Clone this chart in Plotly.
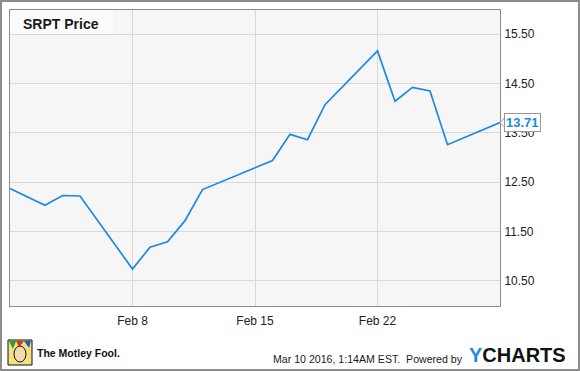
import plotly.graph_objects as go

# ---- data ----
dates = ["2016-02-01", "2016-02-03", "2016-02-04", "2016-02-05", "2016-02-08",
         "2016-02-09", "2016-02-10", "2016-02-11", "2016-02-12", "2016-02-16",
         "2016-02-17", "2016-02-18", "2016-02-19", "2016-02-22", "2016-02-23",
         "2016-02-24", "2016-02-25", "2016-02-26", "2016-02-29"]
prices = [12.37, 12.03, 12.23, 12.22, 10.74,
          11.18, 11.29, 11.72, 12.35, 12.94,
          13.47, 13.36, 14.07, 15.16, 14.14,
          14.42, 14.35, 13.26, 13.71]
y_ticks = [10.5, 11.5, 12.5, 13.5, 14.5, 15.5]
x_ticks = ["2016-02-08", "2016-02-15", "2016-02-22"]
x_tick_text = ["Feb 8", "Feb 15", "Feb 22"]
title_text = "SRPT Price"
last_label = "13.71"
timestamp_text = "Mar 10 2016, 1:14AM EST.  Powered by"

# ---- layout geometry ----
W, H = 580, 371
L, R, T, B = 10, 80, 10, 65
PW, PH = W - L - R, H - T - B


def px(x):
    return (x - L) / PW


def py(y):
    return 1 - (y - T) / PH


BLUE = "#1b8ae4"
FONT = "Liberation Sans, Arial, sans-serif"

fig = go.Figure()
fig.add_trace(go.Scatter(x=dates, y=prices, mode="lines",
                         line=dict(color=BLUE, width=1.7), hoverinfo="skip"))

shapes = [
    # title box
    dict(type="rect", xref="paper", yref="paper", x0=px(10), x1=px(113), y0=py(35), y1=py(10),
         fillcolor="#fbfbfb", line=dict(width=0), layer="below"),
    # outer border
    dict(type="rect", xref="paper", yref="paper", x0=px(1), x1=px(579), y0=py(370), y1=py(1),
         fillcolor="rgba(0,0,0,0)", line=dict(color="#8c8c8c", width=2)),
    # pointer of last value label
    dict(type="path", xref="paper", yref="y", xsizemode="pixel", ysizemode="pixel",
         xanchor=1, yanchor=prices[-1], path="M 0 0 L 5 5 L 5 -5 Z",
         fillcolor="white", line=dict(color="#999999", width=1)),
    # Motley Fool icon
    dict(type="rect", xref="paper", yref="paper", x0=px(8), x1=px(32), y0=py(365), y1=py(340),
         fillcolor="#f3e27c", line=dict(color="#111111", width=1)),
    dict(type="path", xref="paper", yref="paper",
         path=f"M {px(9)} {py(341)} L {px(16)} {py(341)} L {px(13)} {py(349)} Z",
         fillcolor="#2a9d3a", line=dict(width=0)),
    dict(type="path", xref="paper", yref="paper",
         path=f"M {px(16)} {py(341)} L {px(24)} {py(341)} L {px(19)} {py(347)} Z",
         fillcolor="#d9342b", line=dict(width=0)),
    dict(type="path", xref="paper", yref="paper",
         path=f"M {px(24)} {py(341)} L {px(31)} {py(341)} L {px(29)} {py(348)} Z",
         fillcolor="#2c56c8", line=dict(width=0)),
    dict(type="circle", xref="paper", yref="paper", x0=px(14), x1=px(26), y0=py(362), y1=py(346),
         fillcolor="#f7d9b0", line=dict(color="#111111", width=1)),
]

annotations = [
    dict(text=f"<b>{title_text}</b>", xref="paper", yref="paper", x=px(21), y=py(23.5),
         xanchor="left", yanchor="middle", showarrow=False,
         font=dict(family=FONT, size=14, color="#1a1a1a")),
    dict(text=f"<b>{last_label}</b>", xref="paper", yref="y", x=1, y=prices[-1], xshift=4,
         xanchor="left", yanchor="middle", showarrow=False,
         font=dict(family=FONT, size=13, color=BLUE),
         bgcolor="white", bordercolor="#999999", borderwidth=1, borderpad=1),
    dict(text="<b>The Motley Fool.</b>", xref="paper", yref="paper", x=px(35), y=py(353),
         xanchor="left", yanchor="middle", showarrow=False,
         font=dict(family="Liberation Sans Narrow, Arial Narrow, sans-serif", size=10.5, color="#111111")),
    dict(text=timestamp_text, xref="paper", yref="paper", x=px(465), y=py(358.5),
         xanchor="right", yanchor="middle", showarrow=False,
         font=dict(family=FONT, size=10.6, color="#1a1a1a")),
    dict(text=f"<b><span style='color:{BLUE}'>Y</span>CHARTS</b>", xref="paper", yref="paper",
         x=px(467), y=py(355), xanchor="left", yanchor="middle", showarrow=False,
         font=dict(family=FONT, size=20, color="#111111")),
]

fig.update_layout(
    width=W, height=H,
    margin=dict(l=L, r=R, t=T, b=B),
    paper_bgcolor="white", plot_bgcolor="#f6f6f6",
    showlegend=False,
    shapes=shapes, annotations=annotations,
    font=dict(family=FONT, size=12, color="#222222"),
    xaxis=dict(type="date", range=["2016-02-01", "2016-02-29"],
               tickvals=x_ticks, ticktext=x_tick_text,
               showgrid=True, gridcolor="#d9d9d9", gridwidth=1,
               showline=True, linecolor="#8c8c8c", linewidth=1, mirror=True,
               ticks="", zeroline=False, fixedrange=True, ticklabelstandoff=4,
               tickfont=dict(family=FONT, size=12, color="#222222")),
    yaxis=dict(range=[9.99, 15.99], side="right",
               tickvals=y_ticks, tickformat=".2f",
               showgrid=True, gridcolor="#d9d9d9", gridwidth=1,
               showline=True, linecolor="#8c8c8c", linewidth=1, mirror=True,
               ticks="", zeroline=False, fixedrange=True, ticklabelstandoff=1,
               tickfont=dict(family=FONT, size=12, color="#222222")),
)

fig.write_html("out.html")
